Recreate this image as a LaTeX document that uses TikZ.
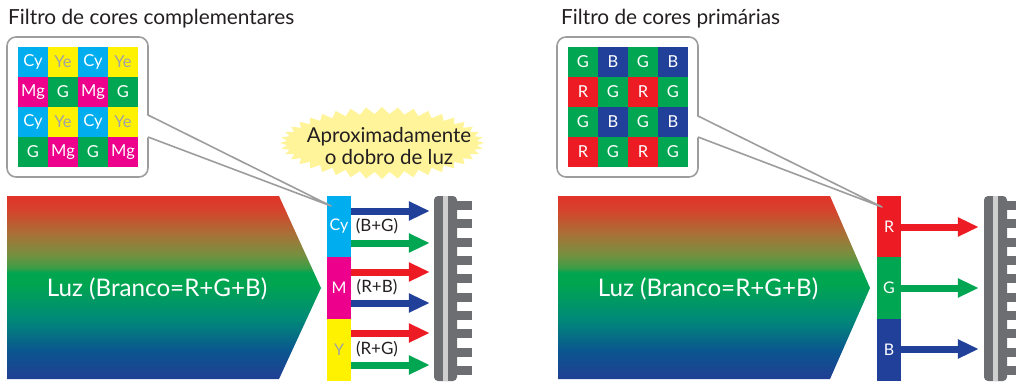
\documentclass[tikz,border=0pt]{standalone}
\usepackage{fontspec}
\setmainfont{Lato}
\usetikzlibrary{shapes.symbols,arrows.meta}
\definecolor{cy}{HTML}{00AEEF}
\definecolor{ye}{HTML}{FFF200}
\definecolor{mg}{HTML}{EC008C}
\definecolor{gr}{HTML}{00A651}
\definecolor{rd}{HTML}{ED1C24}
\definecolor{bl}{HTML}{21409A}
\definecolor{gtxt}{HTML}{A0A2A5}
\definecolor{sensor}{HTML}{6D6E71}
\definecolor{stripe}{HTML}{CFCFD0}
\definecolor{boxline}{HTML}{9D9D9D}
\definecolor{bubble}{HTML}{FFF49A}
\definecolor{txt}{HTML}{231F20}
\definecolor{lza}{HTML}{213F93}
\definecolor{lzb}{HTML}{0B5590}
\definecolor{lzc}{HTML}{008A78}
\definecolor{lzd}{HTML}{00A550}
\definecolor{lze}{HTML}{3E9C45}
\definecolor{lzf}{HTML}{76903F}
\definecolor{lzg}{HTML}{A77237}
\definecolor{lzh}{HTML}{D4442C}
\definecolor{lzi}{HTML}{E2332A}
\pgfdeclareverticalshading{luzshade}{100bp}{color(0bp)=(lza); color(25bp)=(lza); color(32.5bp)=(lzb); color(41.5bp)=(lzc); color(51bp)=(lzd); color(54bp)=(lzd); color(55.5bp)=(lze); color(59bp)=(lzf); color(64.5bp)=(lzg); color(71bp)=(lzh); color(75bp)=(lzi); color(100bp)=(lzi)}
\begin{document}
\begin{tikzpicture}[x=1pt,y=-1pt,
  cell/.style={minimum size=30pt, inner sep=0pt, font=\fontsize{16.5}{18}\selectfont, text=white},
  stripbox/.style={minimum width=24pt, inner sep=0pt, font=\fontsize{16}{18}\selectfont, text=white},
  calloutbox/.style={draw=boxline, line width=1.6pt, fill=white, rounded corners=9pt},
  pointer/.style={draw=boxline, line width=1.6pt, line join=round},
  ray/.style={line width=7pt, -{Triangle[length=21pt,width=18pt]}},
  lbl/.style={font=\fontsize{17}{19}\selectfont, text=txt},
  title/.style={anchor=base west, font=\fontsize{20.8}{26}\selectfont, text=txt, inner sep=0pt},
  luz/.style={anchor=base, text=white, font=\fontsize{24.2}{27}\selectfont, inner sep=0pt},
  sensorbody/.style={fill=sensor, rounded corners=4pt, minimum width=23pt, minimum height=185pt, inner sep=0pt},
]
\useasboundingbox (0,0) rectangle (1016,382);

% titles
\node[title] (t1) at (8,25) {Filtro de cores complementares};
\node[title] (t2) at (561,25) {Filtro de cores primárias};

% callout boxes
\node[calloutbox, minimum width=141pt, minimum height=140pt] (boxL) at (77.5,107) {};
\node[calloutbox, minimum width=141pt, minimum height=140pt] (boxR) at (627.5,107) {};
\coordinate (tipL) at (331,206);
\coordinate (tipR) at (882,207);
\coordinate (pLa) at (148,115);
\coordinate (pLb) at (148,137);
\coordinate (pRa) at (698,116);
\coordinate (pRb) at (698,137);
\fill[white] ([xshift=-2pt]pLa) -- (tipL) -- ([xshift=-2pt]pLb) -- cycle;
\fill[white] ([xshift=-2pt]pRa) -- (tipR) -- ([xshift=-2pt]pRb) -- cycle;

% left grid
\foreach \i/\lab/\fc/\txc in {0/Cy/cy/white,1/Ye/ye/gtxt,2/Cy/cy/white,3/Ye/ye/gtxt}
  \node[cell,fill=\fc,text=\txc] (La\i) at ({33+30*\i},62) {\lab};
\foreach \i/\lab/\fc/\txc in {0/Mg/mg/white,1/G/gr/white,2/Mg/mg/white,3/G/gr/white}
  \node[cell,fill=\fc,text=\txc] (Lb\i) at ({33+30*\i},92) {\lab};
\foreach \i/\lab/\fc/\txc in {0/Cy/cy/white,1/Ye/ye/gtxt,2/Cy/cy/white,3/Ye/ye/gtxt}
  \node[cell,fill=\fc,text=\txc] (Lc\i) at ({33+30*\i},122) {\lab};
\foreach \i/\lab/\fc/\txc in {0/G/gr/white,1/Mg/mg/white,2/G/gr/white,3/Mg/mg/white}
  \node[cell,fill=\fc,text=\txc] (Ld\i) at ({33+30*\i},152) {\lab};

% right grid
\foreach \i/\lab/\fc in {0/G/gr,1/B/bl,2/G/gr,3/B/bl}
  \node[cell,fill=\fc] (Ra\i) at ({583+30*\i},62) {\lab};
\foreach \i/\lab/\fc in {0/R/rd,1/G/gr,2/R/rd,3/G/gr}
  \node[cell,fill=\fc] (Rb\i) at ({583+30*\i},92) {\lab};
\foreach \i/\lab/\fc in {0/G/gr,1/B/bl,2/G/gr,3/B/bl}
  \node[cell,fill=\fc] (Rc\i) at ({583+30*\i},122) {\lab};
\foreach \i/\lab/\fc in {0/R/rd,1/G/gr,2/R/rd,3/G/gr}
  \node[cell,fill=\fc] (Rd\i) at ({583+30*\i},152) {\lab};

% bubble
\node[starburst, starburst points=40, starburst point height=7pt, random starburst=0,
      fill=bubble, minimum width=204pt, minimum height=72pt, inner sep=0pt] (bub) at (382,143) {};
\node[align=center, font=\fontsize{20.5}{22}\selectfont, text=txt, inner sep=0pt] (bubtxt) at (389,146)
      {Aproximadamente\\o dobro de luz};

% big light arrows
\shade[shading=luzshade] (7,196) -- (279,196) -- (321,288) -- (279,379) -- (7,379) -- cycle;
\shade[shading=luzshade] (558,196) -- (830,196) -- (870,288) -- (830,379) -- (558,379) -- cycle;
\node[luz] (luzL) at (157,296) {Luz (Branco=R+G+B)};
\node[luz] (luzR) at (708,296) {Luz (Branco=R+G+B)};

% filter strips
\node[stripbox, fill=cy, minimum height=61pt] (sCy) at (339,226.5) {Cy};
\node[stripbox, fill=mg, minimum height=62pt] (sM) at (339,288) {M};
\node[stripbox, fill=ye, minimum height=62pt, text=gtxt] (sY) at (339,350) {Y};
\node[stripbox, fill=rd, minimum height=61pt] (sR) at (889,226.5) {R};
\node[stripbox, fill=gr, minimum height=62pt] (sG) at (889,288) {G};
\node[stripbox, fill=bl, minimum height=62pt] (sB) at (889,350) {B};

% sensors
\node[sensorbody] (sensL) at (445.5,288.5) {};
\node[sensorbody] (sensR) at (995.5,288.5) {};
\fill[stripe] (443,196) rectangle (448,381);
\fill[stripe] (993,196) rectangle (998,381);
\foreach \k in {0,...,9} {
  \fill[sensor] (456,{201+18.35*\k}) rectangle (472,{210+18.35*\k});
  \fill[sensor] (1006,{201+18.35*\k}) rectangle (1022,{210+18.35*\k});
}

% callout pointers
\draw[pointer] (pLa) -- (tipL) -- (pLb);
\draw[pointer] (pRa) -- (tipR) -- (pRb);

% rays left
\draw[ray, bl] (sCy.east |- 0,211) -- ([xshift=-4pt]sensL.west |- 0,211);
\draw[ray, gr] (sCy.east |- 0,243) -- ([xshift=-4pt]sensL.west |- 0,243);
\draw[ray, rd] (sM.east |- 0,272) -- ([xshift=-4pt]sensL.west |- 0,272);
\draw[ray, bl] (sM.east |- 0,303) -- ([xshift=-4pt]sensL.west |- 0,303);
\draw[ray, rd] (sY.east |- 0,333) -- ([xshift=-4pt]sensL.west |- 0,333);
\draw[ray, gr] (sY.east |- 0,365) -- ([xshift=-4pt]sensL.west |- 0,365);
\node[lbl] (lBG) at (377,226) {(B+G)};
\node[lbl] (lRB) at (377,287) {(R+B)};
\node[lbl] (lRG) at (377,349) {(R+G)};

% rays right
\draw[ray, rd] (sR.east |- 0,227) -- ([xshift=-5pt]sensR.west |- 0,227);
\draw[ray, gr] (sG.east |- 0,288) -- ([xshift=-5pt]sensR.west |- 0,288);
\draw[ray, bl] (sB.east |- 0,349) -- ([xshift=-5pt]sensR.west |- 0,349);
\end{tikzpicture}
\end{document}
